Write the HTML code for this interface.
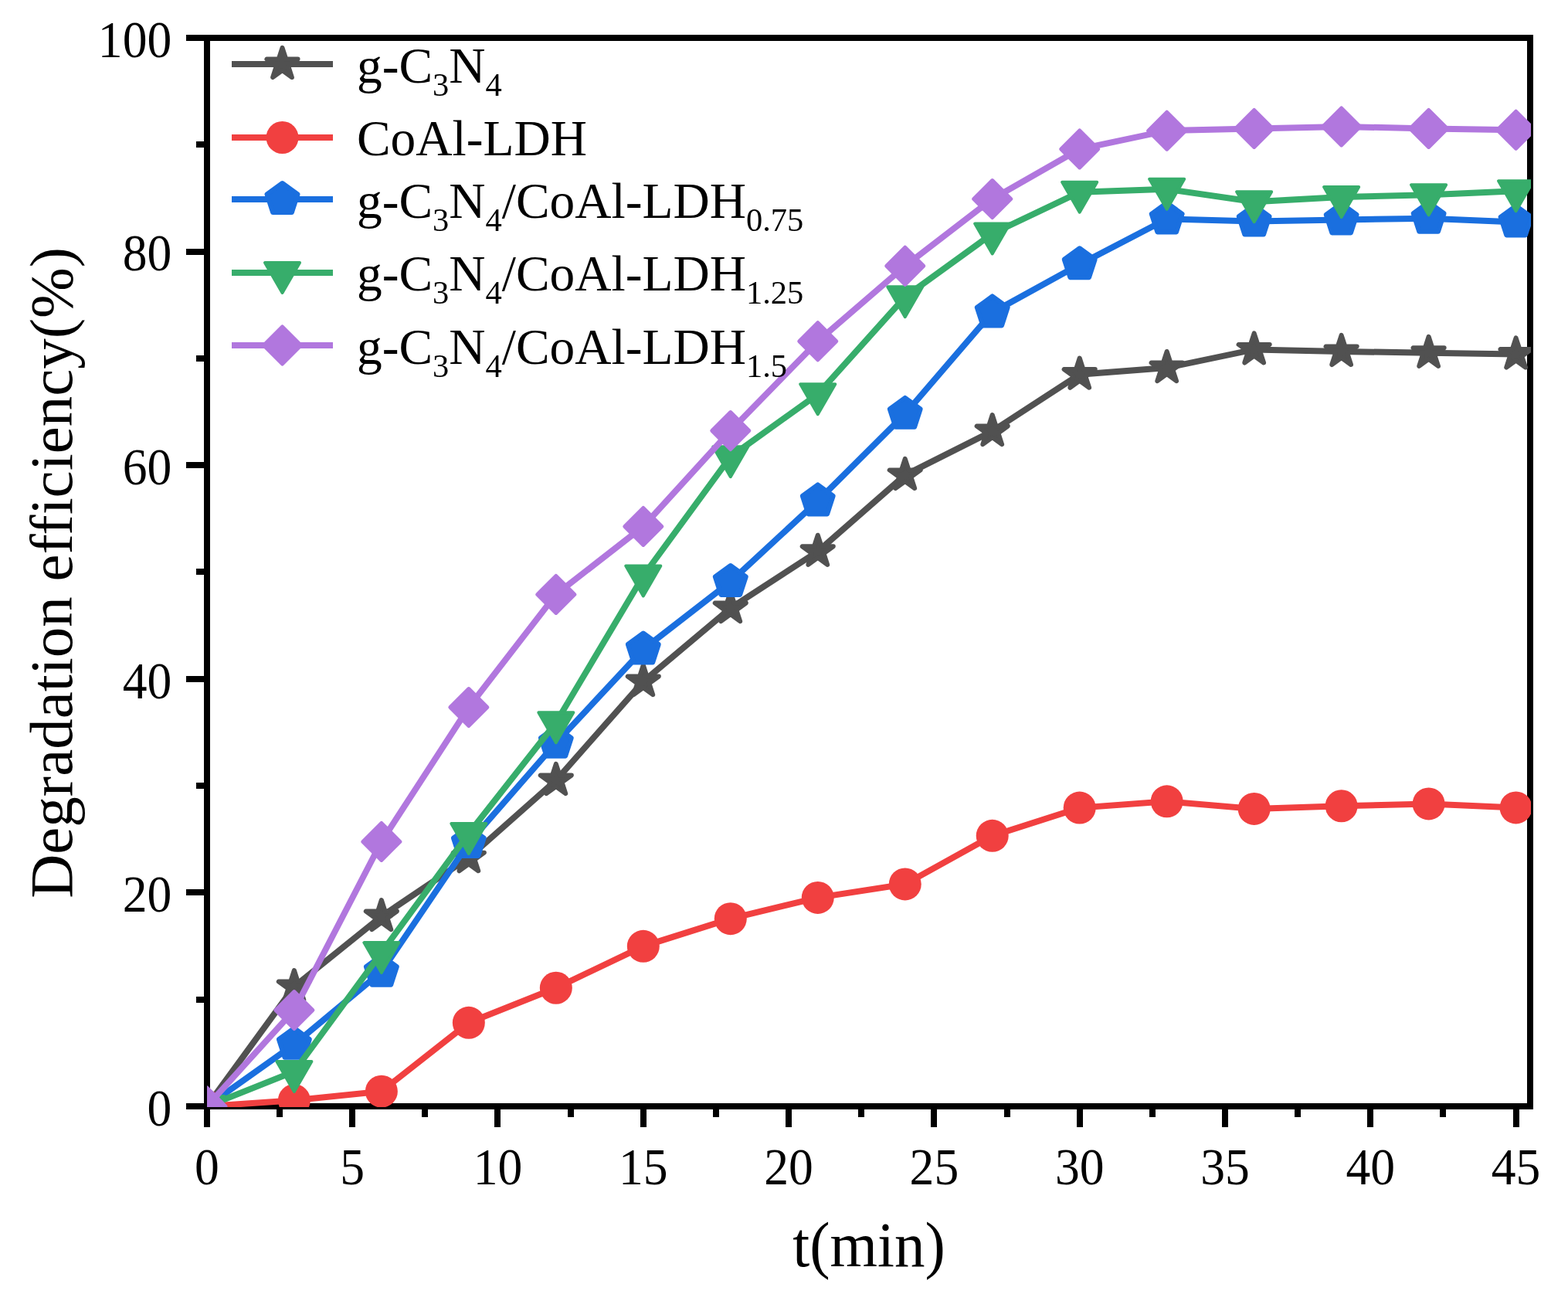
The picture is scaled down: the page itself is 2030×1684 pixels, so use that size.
<!DOCTYPE html><html><head><meta charset="utf-8"><title>Degradation efficiency</title>
<style>html,body{margin:0;padding:0;background:#fff;}svg{display:block;}text{font-family:"Liberation Serif","Times New Roman",serif;fill:#000;}</style></head><body>
<svg width="2030" height="1684" viewBox="0 0 2030 1684">
<rect width="2030" height="1684" fill="#fff"/>
<defs><clipPath id="pc"><rect x="268" y="49" width="1714.0" height="1384.0"/></clipPath></defs>
<g fill="#000" shape-rendering="crispEdges"><rect x="264" y="45" width="8" height="1391"/><rect x="264" y="1428" width="1721" height="8"/><rect x="264" y="45" width="1721" height="8"/><rect x="1977" y="45" width="8" height="1391"/><rect x="241" y="1428" width="27" height="8"/><rect x="241" y="1151" width="27" height="8"/><rect x="241" y="875" width="27" height="8"/><rect x="241" y="598" width="27" height="8"/><rect x="241" y="322" width="27" height="8"/><rect x="241" y="45" width="27" height="8"/><rect x="254" y="1290" width="14" height="8"/><rect x="254" y="1013" width="14" height="8"/><rect x="254" y="736" width="14" height="8"/><rect x="254" y="460" width="14" height="8"/><rect x="254" y="183" width="14" height="8"/><rect x="264" y="1432" width="8" height="27"/><rect x="452" y="1432" width="8" height="27"/><rect x="640" y="1432" width="8" height="27"/><rect x="829" y="1432" width="8" height="27"/><rect x="1017" y="1432" width="8" height="27"/><rect x="1205" y="1432" width="8" height="27"/><rect x="1394" y="1432" width="8" height="27"/><rect x="1582" y="1432" width="8" height="27"/><rect x="1770" y="1432" width="8" height="27"/><rect x="1959" y="1432" width="8" height="27"/><rect x="358" y="1432" width="8" height="14"/><rect x="546" y="1432" width="8" height="14"/><rect x="735" y="1432" width="8" height="14"/><rect x="923" y="1432" width="8" height="14"/><rect x="1111" y="1432" width="8" height="14"/><rect x="1300" y="1432" width="8" height="14"/><rect x="1488" y="1432" width="8" height="14"/><rect x="1676" y="1432" width="8" height="14"/><rect x="1864" y="1432" width="8" height="14"/></g>
<text transform="translate(222.30,1456.80) scale(0.950,1)" font-size="67" text-anchor="end">0</text><text transform="translate(222.30,1180.20) scale(0.950,1)" font-size="67" text-anchor="end">20</text><text transform="translate(222.30,903.60) scale(0.950,1)" font-size="67" text-anchor="end">40</text><text transform="translate(222.30,627.00) scale(0.950,1)" font-size="67" text-anchor="end">60</text><text transform="translate(222.30,350.40) scale(0.950,1)" font-size="67" text-anchor="end">80</text><text transform="translate(222.30,73.80) scale(0.950,1)" font-size="67" text-anchor="end">100</text><text transform="translate(267.90,1532.80) scale(0.950,1)" font-size="67" text-anchor="middle">0</text><text transform="translate(456.20,1532.80) scale(0.950,1)" font-size="67" text-anchor="middle">5</text><text transform="translate(644.50,1532.80) scale(0.950,1)" font-size="67" text-anchor="middle">10</text><text transform="translate(832.80,1532.80) scale(0.950,1)" font-size="67" text-anchor="middle">15</text><text transform="translate(1021.10,1532.80) scale(0.950,1)" font-size="67" text-anchor="middle">20</text><text transform="translate(1209.40,1532.80) scale(0.950,1)" font-size="67" text-anchor="middle">25</text><text transform="translate(1397.70,1532.80) scale(0.950,1)" font-size="67" text-anchor="middle">30</text><text transform="translate(1586.00,1532.80) scale(0.950,1)" font-size="67" text-anchor="middle">35</text><text transform="translate(1774.30,1532.80) scale(0.950,1)" font-size="67" text-anchor="middle">40</text><text transform="translate(1962.60,1532.80) scale(0.950,1)" font-size="67" text-anchor="middle">45</text>
<text transform="translate(1125,1638.8) scale(1,1.04)" font-size="79" text-anchor="middle">t(min)</text>
<text transform="translate(92.5,741.3) rotate(-90)" x="0" y="0" font-size="79" text-anchor="middle">Degradation efficiency(%)</text>
<g clip-path="url(#pc)"><polyline points="267.90,1432.00 380.88,1277.10 493.86,1186.10 606.84,1110.18 719.82,1010.05 832.80,882.12 945.78,787.11 1058.76,713.81 1171.74,614.92 1284.72,558.08 1397.70,484.64 1510.68,476.07 1623.66,452.42 1736.64,454.91 1849.62,456.85 1962.60,458.51" fill="none" stroke="#515151" stroke-width="8" stroke-linejoin="miter" stroke-miterlimit="3"/><polygon points="267.90,1410.90 272.64,1425.48 287.97,1425.48 275.57,1434.49 280.30,1449.07 267.90,1440.06 255.50,1449.07 260.23,1434.49 247.83,1425.48 263.16,1425.48" fill="#515151" stroke="#515151" stroke-width="6.0" stroke-linejoin="round"/><polygon points="380.88,1256.00 385.62,1270.58 400.95,1270.58 388.55,1279.59 393.28,1294.17 380.88,1285.16 368.48,1294.17 373.21,1279.59 360.81,1270.58 376.14,1270.58" fill="#515151" stroke="#515151" stroke-width="6.0" stroke-linejoin="round"/><polygon points="493.86,1165.00 498.60,1179.58 513.93,1179.58 501.53,1188.59 506.26,1203.17 493.86,1194.16 481.46,1203.17 486.19,1188.59 473.79,1179.58 489.12,1179.58" fill="#515151" stroke="#515151" stroke-width="6.0" stroke-linejoin="round"/><polygon points="606.84,1089.08 611.58,1103.66 626.91,1103.66 614.51,1112.67 619.24,1127.25 606.84,1118.24 594.44,1127.25 599.17,1112.67 586.77,1103.66 602.10,1103.66" fill="#515151" stroke="#515151" stroke-width="6.0" stroke-linejoin="round"/><polygon points="719.82,988.95 724.56,1003.53 739.89,1003.53 727.49,1012.54 732.22,1027.12 719.82,1018.11 707.42,1027.12 712.15,1012.54 699.75,1003.53 715.08,1003.53" fill="#515151" stroke="#515151" stroke-width="6.0" stroke-linejoin="round"/><polygon points="832.80,861.02 837.54,875.60 852.87,875.60 840.47,884.61 845.20,899.19 832.80,890.18 820.40,899.19 825.13,884.61 812.73,875.60 828.06,875.60" fill="#515151" stroke="#515151" stroke-width="6.0" stroke-linejoin="round"/><polygon points="945.78,766.01 950.52,780.59 965.85,780.59 953.45,789.60 958.18,804.18 945.78,795.17 933.38,804.18 938.11,789.60 925.71,780.59 941.04,780.59" fill="#515151" stroke="#515151" stroke-width="6.0" stroke-linejoin="round"/><polygon points="1058.76,692.71 1063.50,707.29 1078.83,707.29 1066.43,716.30 1071.16,730.88 1058.76,721.87 1046.36,730.88 1051.09,716.30 1038.69,707.29 1054.02,707.29" fill="#515151" stroke="#515151" stroke-width="6.0" stroke-linejoin="round"/><polygon points="1171.74,593.82 1176.48,608.40 1191.81,608.40 1179.41,617.41 1184.14,631.99 1171.74,622.98 1159.34,631.99 1164.07,617.41 1151.67,608.40 1167.00,608.40" fill="#515151" stroke="#515151" stroke-width="6.0" stroke-linejoin="round"/><polygon points="1284.72,536.98 1289.46,551.56 1304.79,551.56 1292.39,560.57 1297.12,575.15 1284.72,566.14 1272.32,575.15 1277.05,560.57 1264.65,551.56 1279.98,551.56" fill="#515151" stroke="#515151" stroke-width="6.0" stroke-linejoin="round"/><polygon points="1397.70,463.54 1402.44,478.12 1417.77,478.12 1405.37,487.14 1410.10,501.72 1397.70,492.71 1385.30,501.72 1390.03,487.14 1377.63,478.12 1392.96,478.12" fill="#515151" stroke="#515151" stroke-width="6.0" stroke-linejoin="round"/><polygon points="1510.68,454.97 1515.42,469.55 1530.75,469.55 1518.35,478.56 1523.08,493.14 1510.68,484.13 1498.28,493.14 1503.01,478.56 1490.61,469.55 1505.94,469.55" fill="#515151" stroke="#515151" stroke-width="6.0" stroke-linejoin="round"/><polygon points="1623.66,431.32 1628.40,445.90 1643.73,445.90 1631.33,454.91 1636.06,469.49 1623.66,460.48 1611.26,469.49 1615.99,454.91 1603.59,445.90 1618.92,445.90" fill="#515151" stroke="#515151" stroke-width="6.0" stroke-linejoin="round"/><polygon points="1736.64,433.81 1741.38,448.39 1756.71,448.39 1744.31,457.40 1749.04,471.98 1736.64,462.97 1724.24,471.98 1728.97,457.40 1716.57,448.39 1731.90,448.39" fill="#515151" stroke="#515151" stroke-width="6.0" stroke-linejoin="round"/><polygon points="1849.62,435.75 1854.36,450.33 1869.69,450.33 1857.29,459.34 1862.02,473.92 1849.62,464.91 1837.22,473.92 1841.95,459.34 1829.55,450.33 1844.88,450.33" fill="#515151" stroke="#515151" stroke-width="6.0" stroke-linejoin="round"/><polygon points="1962.60,437.41 1967.34,451.99 1982.67,451.99 1970.27,461.00 1975.00,475.58 1962.60,466.57 1950.20,475.58 1954.93,461.00 1942.53,451.99 1957.86,451.99" fill="#515151" stroke="#515151" stroke-width="6.0" stroke-linejoin="round"/><polyline points="267.90,1432.00 380.88,1424.26 493.86,1412.64 606.84,1323.85 719.82,1278.76 832.80,1224.83 945.78,1189.15 1058.76,1161.90 1171.74,1144.47 1284.72,1081.82 1397.70,1045.59 1510.68,1037.29 1623.66,1046.97 1736.64,1043.24 1849.62,1040.47 1962.60,1045.45" fill="none" stroke="#F14040" stroke-width="8" stroke-linejoin="miter" stroke-miterlimit="3"/><circle cx="267.90" cy="1432.00" r="21" fill="#F14040"/><circle cx="380.88" cy="1424.26" r="21" fill="#F14040"/><circle cx="493.86" cy="1412.64" r="21" fill="#F14040"/><circle cx="606.84" cy="1323.85" r="21" fill="#F14040"/><circle cx="719.82" cy="1278.76" r="21" fill="#F14040"/><circle cx="832.80" cy="1224.83" r="21" fill="#F14040"/><circle cx="945.78" cy="1189.15" r="21" fill="#F14040"/><circle cx="1058.76" cy="1161.90" r="21" fill="#F14040"/><circle cx="1171.74" cy="1144.47" r="21" fill="#F14040"/><circle cx="1284.72" cy="1081.82" r="21" fill="#F14040"/><circle cx="1397.70" cy="1045.59" r="21" fill="#F14040"/><circle cx="1510.68" cy="1037.29" r="21" fill="#F14040"/><circle cx="1623.66" cy="1046.97" r="21" fill="#F14040"/><circle cx="1736.64" cy="1043.24" r="21" fill="#F14040"/><circle cx="1849.62" cy="1040.47" r="21" fill="#F14040"/><circle cx="1962.60" cy="1045.45" r="21" fill="#F14040"/><polyline points="267.90,1432.00 380.88,1351.79 493.86,1257.74 606.84,1091.09 719.82,961.64 832.80,840.49 945.78,752.95 1058.76,648.39 1171.74,535.82 1284.72,404.43 1397.70,342.20 1510.68,283.42 1623.66,286.60 1736.64,284.39 1849.62,282.73 1962.60,287.43" fill="none" stroke="#1A6FDF" stroke-width="8" stroke-linejoin="miter" stroke-miterlimit="3"/><polygon points="267.90,1411.00 287.87,1425.51 280.24,1448.99 255.56,1448.99 247.93,1425.51" fill="#1A6FDF" stroke="#1A6FDF" stroke-width="6.0" stroke-linejoin="round"/><polygon points="380.88,1330.79 400.85,1345.30 393.22,1368.78 368.54,1368.78 360.91,1345.30" fill="#1A6FDF" stroke="#1A6FDF" stroke-width="6.0" stroke-linejoin="round"/><polygon points="493.86,1236.74 513.83,1251.25 506.20,1274.73 481.52,1274.73 473.89,1251.25" fill="#1A6FDF" stroke="#1A6FDF" stroke-width="6.0" stroke-linejoin="round"/><polygon points="606.84,1070.09 626.81,1084.60 619.18,1108.08 594.50,1108.08 586.87,1084.60" fill="#1A6FDF" stroke="#1A6FDF" stroke-width="6.0" stroke-linejoin="round"/><polygon points="719.82,940.64 739.79,955.15 732.16,978.63 707.48,978.63 699.85,955.15" fill="#1A6FDF" stroke="#1A6FDF" stroke-width="6.0" stroke-linejoin="round"/><polygon points="832.80,819.49 852.77,834.00 845.14,857.48 820.46,857.48 812.83,834.00" fill="#1A6FDF" stroke="#1A6FDF" stroke-width="6.0" stroke-linejoin="round"/><polygon points="945.78,731.95 965.75,746.46 958.12,769.94 933.44,769.94 925.81,746.46" fill="#1A6FDF" stroke="#1A6FDF" stroke-width="6.0" stroke-linejoin="round"/><polygon points="1058.76,627.39 1078.73,641.90 1071.10,665.38 1046.42,665.38 1038.79,641.90" fill="#1A6FDF" stroke="#1A6FDF" stroke-width="6.0" stroke-linejoin="round"/><polygon points="1171.74,514.82 1191.71,529.33 1184.08,552.81 1159.40,552.81 1151.77,529.33" fill="#1A6FDF" stroke="#1A6FDF" stroke-width="6.0" stroke-linejoin="round"/><polygon points="1284.72,383.43 1304.69,397.94 1297.06,421.42 1272.38,421.42 1264.75,397.94" fill="#1A6FDF" stroke="#1A6FDF" stroke-width="6.0" stroke-linejoin="round"/><polygon points="1397.70,321.20 1417.67,335.71 1410.04,359.19 1385.36,359.19 1377.73,335.71" fill="#1A6FDF" stroke="#1A6FDF" stroke-width="6.0" stroke-linejoin="round"/><polygon points="1510.68,262.42 1530.65,276.93 1523.02,300.41 1498.34,300.41 1490.71,276.93" fill="#1A6FDF" stroke="#1A6FDF" stroke-width="6.0" stroke-linejoin="round"/><polygon points="1623.66,265.60 1643.63,280.11 1636.00,303.59 1611.32,303.59 1603.69,280.11" fill="#1A6FDF" stroke="#1A6FDF" stroke-width="6.0" stroke-linejoin="round"/><polygon points="1736.64,263.39 1756.61,277.90 1748.98,301.38 1724.30,301.38 1716.67,277.90" fill="#1A6FDF" stroke="#1A6FDF" stroke-width="6.0" stroke-linejoin="round"/><polygon points="1849.62,261.73 1869.59,276.24 1861.96,299.72 1837.28,299.72 1829.65,276.24" fill="#1A6FDF" stroke="#1A6FDF" stroke-width="6.0" stroke-linejoin="round"/><polygon points="1962.60,266.43 1982.57,280.94 1974.94,304.42 1950.26,304.42 1942.63,280.94" fill="#1A6FDF" stroke="#1A6FDF" stroke-width="6.0" stroke-linejoin="round"/><polyline points="267.90,1432.00 380.88,1387.05 493.86,1233.12 606.84,1078.92 719.82,935.23 832.80,745.48 945.78,591.14 1058.76,510.23 1171.74,384.24 1284.72,302.50 1397.70,248.71 1510.68,244.83 1623.66,261.15 1736.64,255.07 1849.62,252.30 1962.60,247.18" fill="none" stroke="#37AD6B" stroke-width="8" stroke-linejoin="miter" stroke-miterlimit="3"/><polygon points="267.90,1458.00 245.38,1419.00 290.42,1419.00" fill="#37AD6B" stroke="#37AD6B" stroke-width="4.0" stroke-linejoin="round"/><polygon points="380.88,1413.05 358.36,1374.05 403.40,1374.05" fill="#37AD6B" stroke="#37AD6B" stroke-width="4.0" stroke-linejoin="round"/><polygon points="493.86,1259.12 471.34,1220.12 516.38,1220.12" fill="#37AD6B" stroke="#37AD6B" stroke-width="4.0" stroke-linejoin="round"/><polygon points="606.84,1104.92 584.32,1065.92 629.36,1065.92" fill="#37AD6B" stroke="#37AD6B" stroke-width="4.0" stroke-linejoin="round"/><polygon points="719.82,961.23 697.30,922.23 742.34,922.23" fill="#37AD6B" stroke="#37AD6B" stroke-width="4.0" stroke-linejoin="round"/><polygon points="832.80,771.48 810.28,732.48 855.32,732.48" fill="#37AD6B" stroke="#37AD6B" stroke-width="4.0" stroke-linejoin="round"/><polygon points="945.78,617.14 923.26,578.14 968.30,578.14" fill="#37AD6B" stroke="#37AD6B" stroke-width="4.0" stroke-linejoin="round"/><polygon points="1058.76,536.23 1036.24,497.23 1081.28,497.23" fill="#37AD6B" stroke="#37AD6B" stroke-width="4.0" stroke-linejoin="round"/><polygon points="1171.74,410.24 1149.22,371.24 1194.26,371.24" fill="#37AD6B" stroke="#37AD6B" stroke-width="4.0" stroke-linejoin="round"/><polygon points="1284.72,328.50 1262.20,289.50 1307.24,289.50" fill="#37AD6B" stroke="#37AD6B" stroke-width="4.0" stroke-linejoin="round"/><polygon points="1397.70,274.71 1375.18,235.71 1420.22,235.71" fill="#37AD6B" stroke="#37AD6B" stroke-width="4.0" stroke-linejoin="round"/><polygon points="1510.68,270.83 1488.16,231.83 1533.20,231.83" fill="#37AD6B" stroke="#37AD6B" stroke-width="4.0" stroke-linejoin="round"/><polygon points="1623.66,287.15 1601.14,248.15 1646.18,248.15" fill="#37AD6B" stroke="#37AD6B" stroke-width="4.0" stroke-linejoin="round"/><polygon points="1736.64,281.07 1714.12,242.07 1759.16,242.07" fill="#37AD6B" stroke="#37AD6B" stroke-width="4.0" stroke-linejoin="round"/><polygon points="1849.62,278.30 1827.10,239.30 1872.14,239.30" fill="#37AD6B" stroke="#37AD6B" stroke-width="4.0" stroke-linejoin="round"/><polygon points="1962.60,273.18 1940.08,234.18 1985.12,234.18" fill="#37AD6B" stroke="#37AD6B" stroke-width="4.0" stroke-linejoin="round"/><polyline points="267.90,1432.00 380.88,1307.53 493.86,1089.43 606.84,915.59 719.82,769.40 832.80,681.45 945.78,557.53 1058.76,441.77 1171.74,344.27 1284.72,257.56 1397.70,192.97 1510.68,169.18 1623.66,166.42 1736.64,163.93 1849.62,166.42 1962.60,168.21" fill="none" stroke="#B177DE" stroke-width="8" stroke-linejoin="miter" stroke-miterlimit="3"/><polygon points="267.90,1408.00 291.90,1432.00 267.90,1456.00 243.90,1432.00" fill="#B177DE" stroke="#B177DE" stroke-width="5.0" stroke-linejoin="round"/><polygon points="380.88,1283.53 404.88,1307.53 380.88,1331.53 356.88,1307.53" fill="#B177DE" stroke="#B177DE" stroke-width="5.0" stroke-linejoin="round"/><polygon points="493.86,1065.43 517.86,1089.43 493.86,1113.43 469.86,1089.43" fill="#B177DE" stroke="#B177DE" stroke-width="5.0" stroke-linejoin="round"/><polygon points="606.84,891.59 630.84,915.59 606.84,939.59 582.84,915.59" fill="#B177DE" stroke="#B177DE" stroke-width="5.0" stroke-linejoin="round"/><polygon points="719.82,745.40 743.82,769.40 719.82,793.40 695.82,769.40" fill="#B177DE" stroke="#B177DE" stroke-width="5.0" stroke-linejoin="round"/><polygon points="832.80,657.45 856.80,681.45 832.80,705.45 808.80,681.45" fill="#B177DE" stroke="#B177DE" stroke-width="5.0" stroke-linejoin="round"/><polygon points="945.78,533.53 969.78,557.53 945.78,581.53 921.78,557.53" fill="#B177DE" stroke="#B177DE" stroke-width="5.0" stroke-linejoin="round"/><polygon points="1058.76,417.77 1082.76,441.77 1058.76,465.77 1034.76,441.77" fill="#B177DE" stroke="#B177DE" stroke-width="5.0" stroke-linejoin="round"/><polygon points="1171.74,320.27 1195.74,344.27 1171.74,368.27 1147.74,344.27" fill="#B177DE" stroke="#B177DE" stroke-width="5.0" stroke-linejoin="round"/><polygon points="1284.72,233.56 1308.72,257.56 1284.72,281.56 1260.72,257.56" fill="#B177DE" stroke="#B177DE" stroke-width="5.0" stroke-linejoin="round"/><polygon points="1397.70,168.97 1421.70,192.97 1397.70,216.97 1373.70,192.97" fill="#B177DE" stroke="#B177DE" stroke-width="5.0" stroke-linejoin="round"/><polygon points="1510.68,145.18 1534.68,169.18 1510.68,193.18 1486.68,169.18" fill="#B177DE" stroke="#B177DE" stroke-width="5.0" stroke-linejoin="round"/><polygon points="1623.66,142.42 1647.66,166.42 1623.66,190.42 1599.66,166.42" fill="#B177DE" stroke="#B177DE" stroke-width="5.0" stroke-linejoin="round"/><polygon points="1736.64,139.93 1760.64,163.93 1736.64,187.93 1712.64,163.93" fill="#B177DE" stroke="#B177DE" stroke-width="5.0" stroke-linejoin="round"/><polygon points="1849.62,142.42 1873.62,166.42 1849.62,190.42 1825.62,166.42" fill="#B177DE" stroke="#B177DE" stroke-width="5.0" stroke-linejoin="round"/><polygon points="1962.60,144.21 1986.60,168.21 1962.60,192.21 1938.60,168.21" fill="#B177DE" stroke="#B177DE" stroke-width="5.0" stroke-linejoin="round"/></g>
<rect x="300" y="79.0" width="131" height="8" fill="#515151"/><polygon points="365.50,61.90 370.24,76.48 385.57,76.48 373.17,85.49 377.90,100.07 365.50,91.06 353.10,100.07 357.83,85.49 345.43,76.48 360.76,76.48" fill="#515151" stroke="#515151" stroke-width="6.0" stroke-linejoin="round"/><rect x="300" y="174.0" width="131" height="8" fill="#F14040"/><circle cx="365.50" cy="178.00" r="21" fill="#F14040"/><rect x="300" y="254.0" width="131" height="8" fill="#1A6FDF"/><polygon points="365.50,237.00 385.47,251.51 377.84,274.99 353.16,274.99 345.53,251.51" fill="#1A6FDF" stroke="#1A6FDF" stroke-width="6.0" stroke-linejoin="round"/><rect x="300" y="349.0" width="131" height="8" fill="#37AD6B"/><polygon points="365.50,379.00 342.98,340.00 388.02,340.00" fill="#37AD6B" stroke="#37AD6B" stroke-width="4.0" stroke-linejoin="round"/><rect x="300" y="443.0" width="131" height="8" fill="#B177DE"/><polygon points="365.50,423.00 389.50,447.00 365.50,471.00 341.50,447.00" fill="#B177DE" stroke="#B177DE" stroke-width="5.0" stroke-linejoin="round"/><text x="462" y="106.7" font-size="65.4">g-C<tspan font-size="42.5" dy="17">3</tspan><tspan dy="-17">N</tspan><tspan font-size="42.5" dy="17">4</tspan></text><text x="462" y="201.1" font-size="65.4">CoAl-LDH</text><text x="462" y="282.0" font-size="65.4">g-C<tspan font-size="42.5" dy="17">3</tspan><tspan dy="-17">N</tspan><tspan font-size="42.5" dy="17">4</tspan><tspan dy="-17">/CoAl-LDH</tspan><tspan font-size="42.5" dy="17">0.75</tspan></text><text x="462" y="376.2" font-size="65.4">g-C<tspan font-size="42.5" dy="17">3</tspan><tspan dy="-17">N</tspan><tspan font-size="42.5" dy="17">4</tspan><tspan dy="-17">/CoAl-LDH</tspan><tspan font-size="42.5" dy="17">1.25</tspan></text><text x="462" y="471.1" font-size="65.4">g-C<tspan font-size="42.5" dy="17">3</tspan><tspan dy="-17">N</tspan><tspan font-size="42.5" dy="17">4</tspan><tspan dy="-17">/CoAl-LDH</tspan><tspan font-size="42.5" dy="17">1.5</tspan></text>
</svg></body></html>
